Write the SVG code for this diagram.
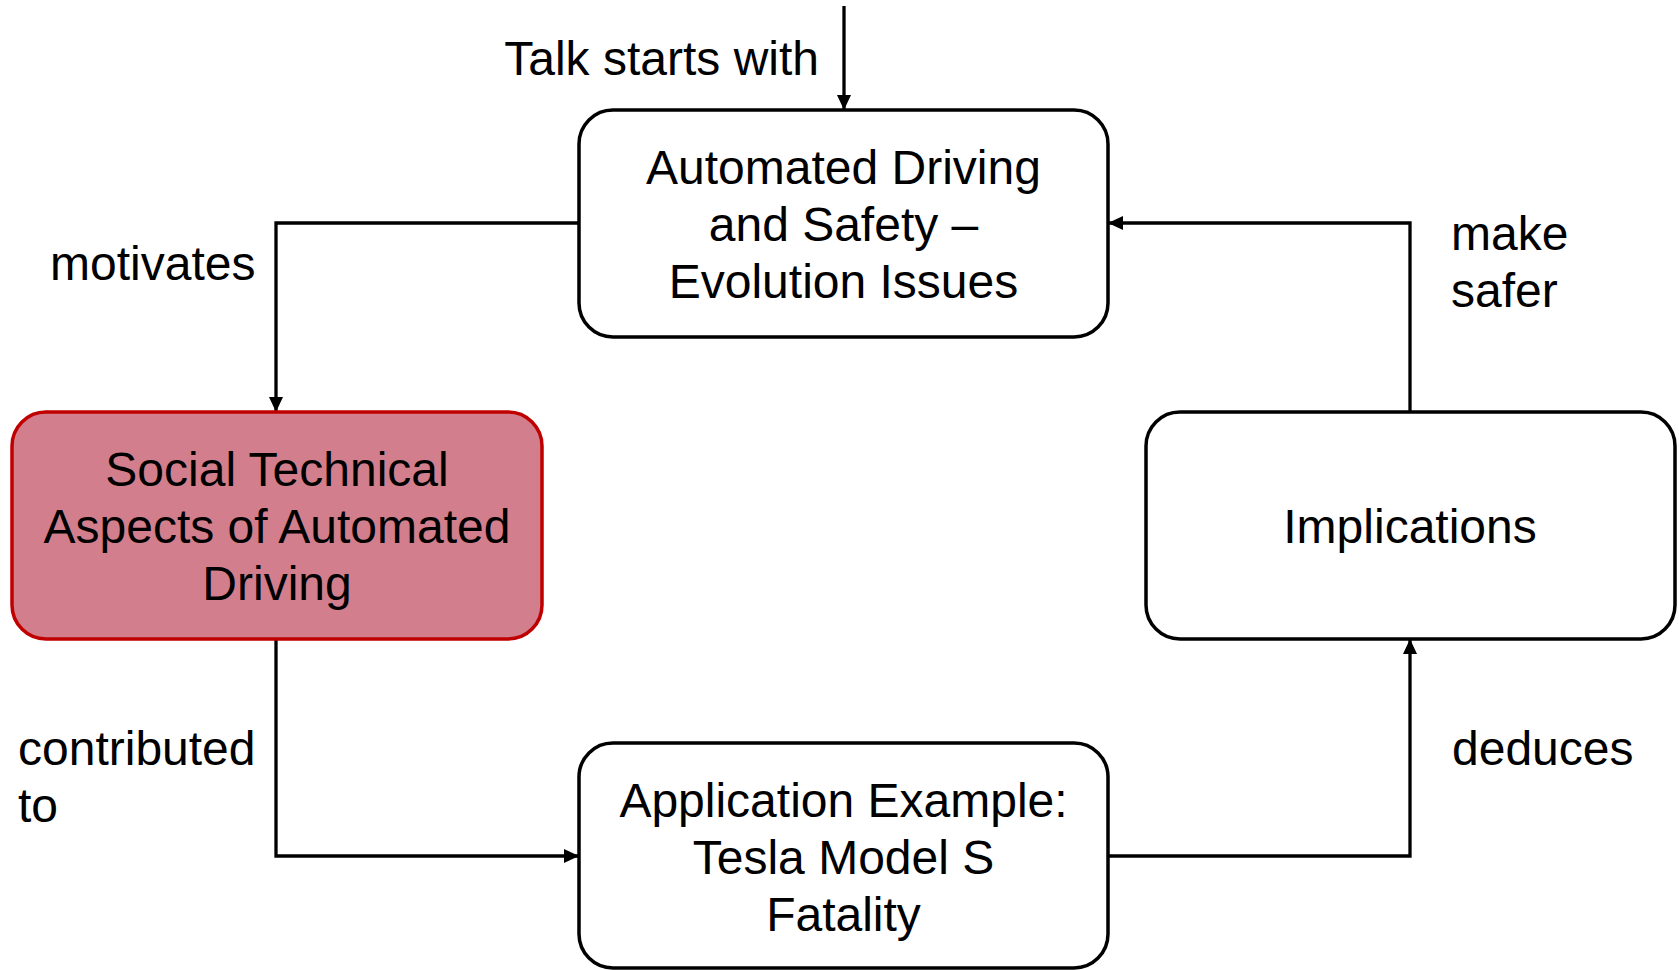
<svg xmlns="http://www.w3.org/2000/svg" width="1679" height="970" viewBox="0 0 1679 970">
<style>
.node{fill:#ffffff;stroke:#000000;stroke-width:3.5}
.hl{fill:#d37e8c;stroke:#c00000;stroke-width:3.5}
.t{font-family:"Liberation Sans",Arial,sans-serif;font-size:48px;fill:#000000;text-anchor:middle}
.lbl{font-family:"Liberation Sans",Arial,sans-serif;font-size:48px;fill:#000000}
.c{fill:none;stroke:#000000;stroke-width:3.3}
</style>
<defs>
<marker id="arr" markerUnits="userSpaceOnUse" markerWidth="16" markerHeight="14" refX="15" refY="7" orient="auto">
<path d="M0,0 L15,7 L0,14 Z" fill="#000000"/>
</marker>
</defs>
<rect width="1679" height="970" fill="#ffffff"/>
<g id="connectors">
<path class="c" d="M844,6 L844,110" marker-end="url(#arr)"/>
<path class="c" d="M579,223 L276,223 L276,412" marker-end="url(#arr)"/>
<path class="c" d="M276,639 L276,856 L579,856" marker-end="url(#arr)"/>
<path class="c" d="M1108,856 L1410,856 L1410,639" marker-end="url(#arr)"/>
<path class="c" d="M1410,412 L1410,223 L1108,223" marker-end="url(#arr)"/>
</g>
<g id="labels">
<text class="lbl" x="819" y="75" text-anchor="end">Talk starts with</text>
<text class="lbl" x="50" y="280">motivates</text>
<text class="lbl" x="1451" y="250">make</text>
<text class="lbl" x="1451" y="307">safer</text>
<text class="lbl" x="18" y="765">contributed</text>
<text class="lbl" x="18" y="822">to</text>
<text class="lbl" x="1452" y="765">deduces</text>
</g>
<g id="node-automated">
<rect class="node" x="579" y="110" width="529" height="227" rx="34"/>
<text class="t" x="843.5" y="184">Automated Driving</text>
<text class="t" x="843.5" y="241">and Safety –</text>
<text class="t" x="843.5" y="298">Evolution Issues</text>
</g>
<g id="node-social">
<rect class="hl" x="12" y="412" width="530" height="227" rx="34"/>
<text class="t" x="277" y="486">Social Technical</text>
<text class="t" x="277" y="543">Aspects of Automated</text>
<text class="t" x="277" y="600">Driving</text>
</g>
<g id="node-implications">
<rect class="node" x="1146" y="412" width="529" height="227" rx="34"/>
<text class="t" x="1410" y="543">Implications</text>
</g>
<g id="node-application">
<rect class="node" x="579" y="743" width="529" height="225" rx="34"/>
<text class="t" x="843.5" y="817">Application Example:</text>
<text class="t" x="843.5" y="874">Tesla Model S</text>
<text class="t" x="843.5" y="931">Fatality</text>
</g>
</svg>
